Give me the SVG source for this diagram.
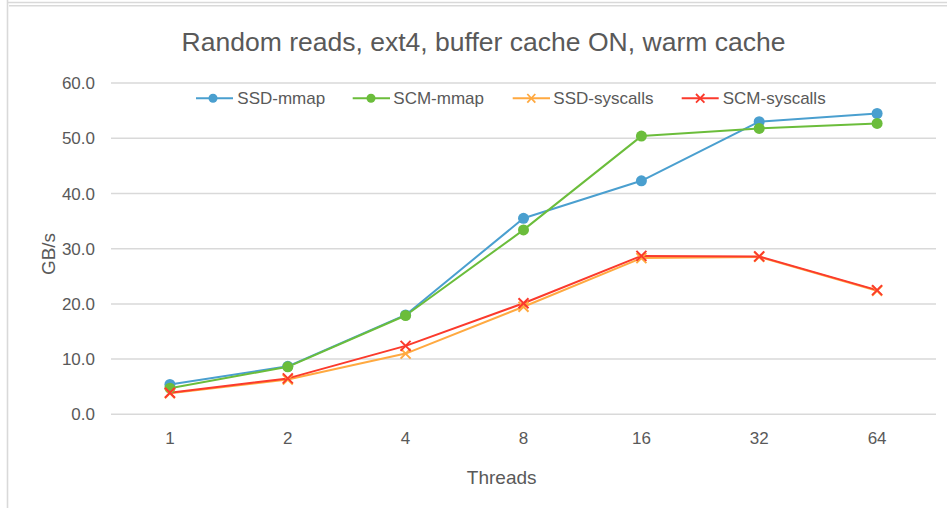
<svg xmlns="http://www.w3.org/2000/svg" width="947" height="508" viewBox="0 0 947 508">
<defs>
<style>
.frame{stroke:#d9d9d9;stroke-width:1.6;fill:none}
.grid{stroke:#d9d9d9;stroke-width:1.5;fill:none}
text{font-family:"Liberation Sans",Arial,Helvetica,sans-serif;fill:#595959}
.title{font-size:26.5px}
.tick{font-size:17px}
.axis{font-size:19px}
.leg{font-size:17px}
.s{fill:none;stroke-width:2;stroke-linejoin:round}
.blue{stroke:#4a9fcf}
.green{stroke:#6bbd3b}
.orange{stroke:#ffa940}
.red{stroke:#fb3a2c}
</style>
<circle id="mb" r="5.5" fill="#4a9fcf"/>
<circle id="mg" r="5.5" fill="#6bbd3b"/>
<path id="xo" d="M-5,-5L5,5M-5,5L5,-5" stroke="#ffa940" stroke-width="2" fill="none"/>
<path id="xr" d="M-5,-5L5,5M-5,5L5,-5" stroke="#fb3a2c" stroke-width="2" fill="none"/>
</defs>
<rect width="947" height="508" fill="#ffffff"/>
<g id="frame">
<line class="frame" x1="7" y1="2.5" x2="947" y2="2.5"/>
<line class="frame" x1="9" y1="5.8" x2="947" y2="5.8"/>
<line class="frame" x1="7.5" y1="0" x2="7.5" y2="508"/>
</g>
<text class="title" x="483.5" y="51" text-anchor="middle" textLength="604" lengthAdjust="spacingAndGlyphs">Random reads, ext4, buffer cache ON, warm cache</text>
<g id="gridlines">
<line class="grid" x1="111" y1="83.1" x2="936" y2="83.1"/>
<line class="grid" x1="111" y1="138.3" x2="936" y2="138.3"/>
<line class="grid" x1="111" y1="193.5" x2="936" y2="193.5"/>
<line class="grid" x1="111" y1="248.7" x2="936" y2="248.7"/>
<line class="grid" x1="111" y1="303.9" x2="936" y2="303.9"/>
<line class="grid" x1="111" y1="359.1" x2="936" y2="359.1"/>
<line class="grid" x1="111" y1="414.3" x2="936" y2="414.3"/>
</g>
<g id="y-ticks" text-anchor="end">
<text class="tick" x="95" y="89.2">60.0</text>
<text class="tick" x="95" y="144.4">50.0</text>
<text class="tick" x="95" y="199.6">40.0</text>
<text class="tick" x="95" y="254.8">30.0</text>
<text class="tick" x="95" y="310">20.0</text>
<text class="tick" x="95" y="365.2">10.0</text>
<text class="tick" x="95" y="420.4">0.0</text>
</g>
<g id="x-ticks" text-anchor="middle">
<text class="tick" x="169.9" y="443.5">1</text>
<text class="tick" x="287.8" y="443.5">2</text>
<text class="tick" x="405.6" y="443.5">4</text>
<text class="tick" x="523.5" y="443.5">8</text>
<text class="tick" x="641.4" y="443.5">16</text>
<text class="tick" x="759.2" y="443.5">32</text>
<text class="tick" x="877.1" y="443.5">64</text>
</g>
<text class="axis" x="501.7" y="483.5" text-anchor="middle">Threads</text>
<text class="axis" transform="translate(55,254) rotate(-90)" text-anchor="middle">GB/s</text>
<g id="connectors">
<polyline class="s blue" points="169.9,384.5 287.8,366.3 405.6,314.9 523.5,218.3 641.4,180.8 759.2,121.7 877.1,113.5"/>
<polyline class="s green" points="169.9,388.2 287.8,366.8 405.6,315.5 523.5,229.9 641.4,136.1 759.2,128.4 877.1,123.4"/>
<polyline class="s orange" points="169.9,393.3 287.8,379.5 405.6,353.6 523.5,306.7 641.4,258.1 759.2,256.9 877.1,290.7"/>
<polyline class="s red" points="169.9,392.8 287.8,378.4 405.6,345.9 523.5,303.3 641.4,255.9 759.2,256.4 877.1,290.1"/>
</g>
<g id="series-ssd-mmap">
<use href="#mb" x="169.9" y="384.5"/><use href="#mb" x="287.8" y="366.3"/><use href="#mb" x="405.6" y="314.9"/><use href="#mb" x="523.5" y="218.3"/><use href="#mb" x="641.4" y="180.8"/><use href="#mb" x="759.2" y="121.7"/><use href="#mb" x="877.1" y="113.5"/>
</g>
<g id="series-scm-mmap">
<use href="#mg" x="169.9" y="388.2"/><use href="#mg" x="287.8" y="366.8"/><use href="#mg" x="405.6" y="315.5"/><use href="#mg" x="523.5" y="229.9"/><use href="#mg" x="641.4" y="136.1"/><use href="#mg" x="759.2" y="128.4"/><use href="#mg" x="877.1" y="123.4"/>
</g>
<g id="series-ssd-syscalls">
<use href="#xo" x="169.9" y="393.3"/><use href="#xo" x="287.8" y="379.5"/><use href="#xo" x="405.6" y="353.6"/><use href="#xo" x="523.5" y="306.7"/><use href="#xo" x="641.4" y="258.1"/><use href="#xo" x="759.2" y="256.9"/><use href="#xo" x="877.1" y="290.7"/>
</g>
<g id="series-scm-syscalls">
<use href="#xr" x="169.9" y="392.8"/><use href="#xr" x="287.8" y="378.4"/><use href="#xr" x="405.6" y="345.9"/><use href="#xr" x="523.5" y="303.3"/><use href="#xr" x="641.4" y="255.9"/><use href="#xr" x="759.2" y="256.4"/><use href="#xr" x="877.1" y="290.1"/>
</g>
<g id="legend">
<line class="s blue" x1="196" y1="98.3" x2="233" y2="98.3"/><circle cx="213" cy="98.3" r="4.5" fill="#4a9fcf"/>
<text class="leg" x="237.3" y="104.3">SSD-mmap</text>
<line class="s green" x1="352.7" y1="98.3" x2="390" y2="98.3"/><circle cx="371" cy="98.3" r="4.5" fill="#6bbd3b"/>
<text class="leg" x="393.3" y="104.3">SCM-mmap</text>
<line class="s orange" x1="512.7" y1="98.3" x2="550" y2="98.3"/><path d="M527.3,94L535.3,102.6M527.3,102.6L535.3,94" stroke="#ffa940" stroke-width="1.8" fill="none"/>
<text class="leg" x="553.3" y="104.3">SSD-syscalls</text>
<line class="s red" x1="681.7" y1="98.3" x2="718.7" y2="98.3"/><path d="M696,94L704.4,102.6M696,102.6L704.4,94" stroke="#fb3a2c" stroke-width="1.8" fill="none"/>
<text class="leg" x="722.7" y="104.3">SCM-syscalls</text>
</g>
</svg>
